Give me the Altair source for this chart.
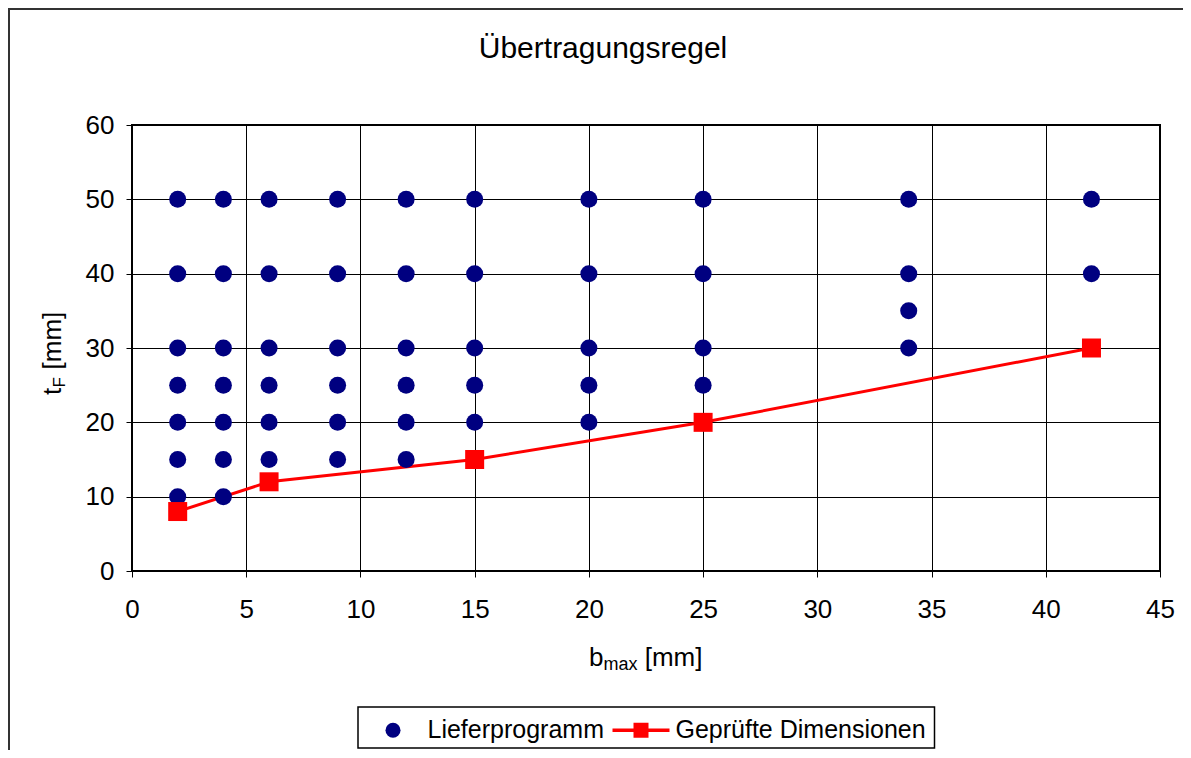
import altair as alt
import pandas as pd

# --- data ---
# "Lieferprogramm" (delivery programme): b_max [mm] vs t_F [mm]
lief_b = [2, 2, 2, 2, 2, 2, 2,
          4, 4, 4, 4, 4, 4, 4,
          6, 6, 6, 6, 6, 6,
          9, 9, 9, 9, 9, 9,
          12, 12, 12, 12, 12, 12,
          15, 15, 15, 15, 15,
          20, 20, 20, 20, 20,
          25, 25, 25, 25,
          34, 34, 34, 34,
          42, 42]
lief_t = [10, 15, 20, 25, 30, 40, 50,
          10, 15, 20, 25, 30, 40, 50,
          15, 20, 25, 30, 40, 50,
          15, 20, 25, 30, 40, 50,
          15, 20, 25, 30, 40, 50,
          20, 25, 30, 40, 50,
          20, 25, 30, 40, 50,
          25, 30, 40, 50,
          30, 35, 40, 50,
          40, 50]

# "Geprüfte Dimensionen" (tested dimensions)
gepr_b = [2, 6, 15, 25, 42]
gepr_t = [8, 12, 15, 20, 30]

series_names = ["Lieferprogramm", "Geprüfte Dimensionen"]
series_colors = ["#000080", "#FF0000"]

x_ticks = [0, 5, 10, 15, 20, 25, 30, 35, 40, 45]
y_ticks = [0, 10, 20, 30, 40, 50, 60]

FONT = "Liberation Sans"

lief_df = pd.DataFrame({"b": lief_b, "t": lief_t})
gepr_df = pd.DataFrame({"b": gepr_b, "t": gepr_t})
legend_df = pd.DataFrame({"series": series_names})
one = pd.DataFrame({"k": [0]})

x_enc = alt.X("b:Q", scale=alt.Scale(domain=[0, 45], nice=False, zero=False),
              axis=alt.Axis(values=x_ticks, title=None, labelPadding=19))
y_enc = alt.Y("t:Q", scale=alt.Scale(domain=[0, 60], nice=False, zero=False),
              axis=alt.Axis(values=y_ticks, title=None, labelPadding=12))

# outer chart frame
frame = alt.Chart(one).mark_rect(fillOpacity=0, stroke="#333333", strokeWidth=2).encode(
    x=alt.value(-123), x2=alt.value(1100), y=alt.value(-116), y2=alt.value(700))

# legend box
legend_box = alt.Chart(one).mark_rect(fill="white", stroke="black", strokeWidth=1.5).encode(
    x=alt.value(226), x2=alt.value(802.5), y=alt.value(582), y2=alt.value(623))

line = alt.Chart(gepr_df).mark_line(color="#FF0000", strokeWidth=3).encode(x=x_enc, y=y_enc)
circles = alt.Chart(lief_df).mark_circle(color="#000080", size=290, opacity=1).encode(x=x_enc, y=y_enc)
squares = alt.Chart(gepr_df).mark_square(color="#FF0000", size=361, opacity=1).encode(x=x_enc, y=y_enc)

line_square_path = "M-3.8,-0.23H3.8V0.23H-3.8Z M-1,-1H1V1H-1Z"
leg = alt.Legend(orient="none", legendX=248.5, legendY=592.5, direction="horizontal",
                 title=None, labelFont=FONT, labelFontSize=25, labelColor="black",
                 labelOffset=22, columnPadding=8, symbolSize=225, symbolStrokeWidth=0,
                 labelLimit=600, padding=0, symbolOpacity=1)
legend_layer = alt.Chart(legend_df).transform_filter("false").mark_point(filled=True, opacity=1).encode(
    color=alt.Color("series:N", scale=alt.Scale(domain=series_names, range=series_colors), legend=leg),
    shape=alt.Shape("series:N", scale=alt.Scale(domain=series_names, range=["circle", line_square_path]), legend=leg),
)

title = alt.Chart(one).mark_text(text="Übertragungsregel", font=FONT, fontSize=30, color="black",
                                 align="center", baseline="alphabetic").encode(
    x=alt.value(471), y=alt.value(-67))

# x-axis title b_max [mm]
xt1 = alt.Chart(one).mark_text(text="b", font=FONT, fontSize=26, color="black",
                               align="left", baseline="alphabetic").encode(x=alt.value(457), y=alt.value(541))
xt2 = alt.Chart(one).mark_text(text="max", font=FONT, fontSize=18, color="black",
                               align="left", baseline="alphabetic").encode(x=alt.value(471.5), y=alt.value(545))
xt3 = alt.Chart(one).mark_text(text="[mm]", font=FONT, fontSize=26, color="black",
                               align="left", baseline="alphabetic").encode(x=alt.value(512.7), y=alt.value(541))

# y-axis title t_F [mm]
yt1 = alt.Chart(one).mark_text(text="t", font=FONT, fontSize=26, color="black", angle=270,
                               align="left", baseline="alphabetic").encode(x=alt.value(-71), y=alt.value(270))
yt2 = alt.Chart(one).mark_text(text="F", font=FONT, fontSize=17, color="black", angle=270,
                               align="left", baseline="alphabetic").encode(x=alt.value(-67), y=alt.value(262.5))
yt3 = alt.Chart(one).mark_text(text="[mm]", font=FONT, fontSize=26, color="black", angle=270,
                               align="left", baseline="alphabetic").encode(x=alt.value(-71), y=alt.value(244.5))

chart = alt.layer(
    frame, legend_box, line, circles, squares, legend_layer,
    title, xt1, xt2, xt3, yt1, yt2, yt3
).properties(
    width=1028, height=446,
    autosize=alt.AutoSizeParams(type="none"),
    padding={"left": 124, "top": 117, "right": 23, "bottom": 179},
    background="white",
).configure_view(
    stroke="black", strokeWidth=2
).configure_axis(
    labelFont=FONT, labelFontSize=26, labelColor="black",
    tickColor="black", tickSize=6, tickWidth=1,
    gridColor="black", gridWidth=1, gridOpacity=1,
    domain=False, labelFlush=False, labelOverlap=False,
)

chart.save("out.html", embed_options={"renderer": "svg", "actions": False})
